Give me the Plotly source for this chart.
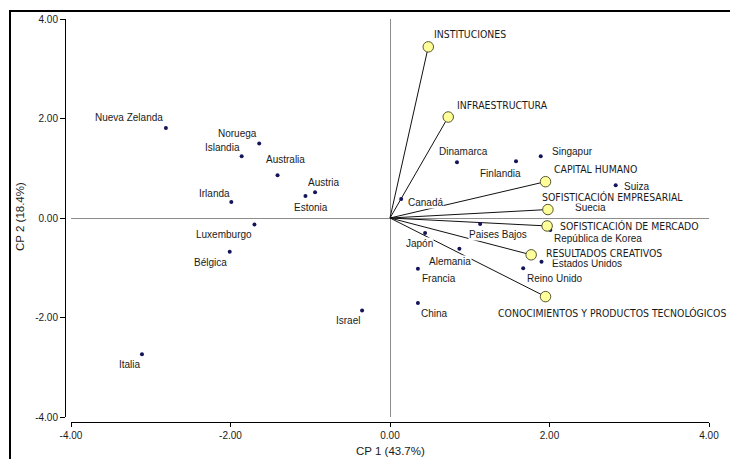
import plotly.graph_objects as go

# ---------------- data ----------------
countries = ["Nueva Zelanda", "Noruega", "Islandia", "Irlanda", "Australia", "Austria",
             "Estonia", "Luxemburgo", "Bélgica", "Italia", "Israel", "China", "Francia",
             "Alemania", "Japón", "Paises Bajos", "Canadá", "Dinamarca", "Finlandia",
             "Singapur", "Suiza", "Suecia", "República de Korea", "Estados Unidos", "Reino Unido"]
country_cp1 = [-2.81, -1.64, -1.86, -1.99, -1.41, -0.94, -1.06, -1.70, -2.01, -3.11, -0.35, 0.35,
               0.35, 0.87, 0.44, 1.13, 0.14, 0.84, 1.58, 1.89, 2.83, 1.99, 2.01, 1.90, 1.67]
country_cp2 = [1.81, 1.50, 1.24, 0.32, 0.86, 0.52, 0.44, -0.13, -0.68, -2.74, -1.86, -1.71,
               -1.02, -0.62, -0.30, -0.12, 0.38, 1.12, 1.14, 1.24, 0.66, 0.17, -0.24, -0.88, -1.01]

pillars = ["INSTITUCIONES", "INFRAESTRUCTURA", "CAPITAL HUMANO", "SOFISTICACIÓN EMPRESARIAL",
           "SOFISTICACIÓN DE MERCADO", "RESULTADOS CREATIVOS",
           "CONOCIMIENTOS Y PRODUCTOS TECNOLÓGICOS"]
pillar_cp1 = [0.48, 0.73, 1.95, 1.98, 1.97, 1.77, 1.95]
pillar_cp2 = [3.44, 2.03, 0.73, 0.17, -0.16, -0.74, -1.58]

tick_values = [-4, -2, 0, 2, 4]
tick_labels = ["-4.00", "-2.00", "0.00", "2.00", "4.00"]
x_title = "CP 1 (43.7%)"
y_title = "CP 2 (18.4%)"

# ---------------- label placement (pixel offsets from the marker) ----------------
country_label_offset = {
    "Nueva Zelanda": (-37, -10), "Noruega": (-22, -10), "Islandia": (-19, -9),
    "Irlanda": (-17, -9), "Australia": (8, -16), "Austria": (9, -10), "Estonia": (6, 11),
    "Luxemburgo": (-30, 10), "Bélgica": (-19, 11), "Italia": (-12, 10), "Israel": (-14, 10),
    "China": (17, 10), "Francia": (21, 10), "Alemania": (-9, 13), "Japón": (-6, 11),
    "Paises Bajos": (18, 11), "Canadá": (24, 3), "Dinamarca": (7, -11), "Finlandia": (-16, 12),
    "Singapur": (32, -5), "Suiza": (21, 1), "Suecia": (42, -2), "República de Korea": (48, 9),
    "Estados Unidos": (45, 2), "Reino Unido": (31, 10),
}
pillar_label_offset = {
    "INSTITUCIONES": (42, -13), "INFRAESTRUCTURA": (54, -12), "CAPITAL HUMANO": (50, -13),
    "SOFISTICACIÓN EMPRESARIAL": (65, -13), "SOFISTICACIÓN DE MERCADO": (82, 0),
    "RESULTADOS CREATIVOS": (73, -2), "CONOCIMIENTOS Y PRODUCTOS TECNOLÓGICOS": (66, 16),
}

FONT = "Liberation Sans, Arial, sans-serif"
FONT_CAPS = "DejaVu Sans Condensed, Liberation Sans, sans-serif"
W, H = 730, 459

fig = go.Figure()

# vectors from origin
vx, vy = [], []
for a, b in zip(pillar_cp1, pillar_cp2):
    vx += [0, a, None]
    vy += [0, b, None]
fig.add_trace(go.Scatter(x=vx, y=vy, mode="lines", line=dict(color="#111111", width=1),
                         hoverinfo="skip", showlegend=False))

# countries
fig.add_trace(go.Scatter(x=country_cp1, y=country_cp2, mode="markers", text=countries,
                         marker=dict(size=4, color="#14145a"), showlegend=False))

# pillar end points
fig.add_trace(go.Scatter(x=pillar_cp1, y=pillar_cp2, mode="markers", text=pillars,
                         marker=dict(size=10.5, color="#ffff99", line=dict(color="#555533", width=1)),
                         showlegend=False))

annotations = []
for name, a, b in zip(countries, country_cp1, country_cp2):
    dx, dy = country_label_offset[name]
    annotations.append(dict(x=a, y=b, xref="x", yref="y", text=name, showarrow=False,
                            xshift=dx, yshift=-dy, xanchor="center", yanchor="middle",
                            font=dict(family=FONT, size=10, color="#1a1a1a"),
                            bgcolor="white", borderpad=0))
for name, a, b in zip(pillars, pillar_cp1, pillar_cp2):
    dx, dy = pillar_label_offset[name]
    annotations.append(dict(x=a, y=b, xref="x", yref="y", text=name, showarrow=False,
                            xshift=dx, yshift=-dy, xanchor="center", yanchor="middle",
                            font=dict(family=FONT_CAPS, size=10.4, color="#1a1a1a"),
                            bgcolor="white", borderpad=0))

# axis titles
annotations.append(dict(x=390 / W, y=1 - 451 / H, xref="paper", yref="paper", text=x_title,
                        showarrow=False, xanchor="center", yanchor="middle",
                        font=dict(family=FONT, size=11.5, color="#1a1a1a")))
annotations.append(dict(x=20 / W, y=1 - 217 / H, xref="paper", yref="paper", text=y_title,
                        showarrow=False, xanchor="center", yanchor="middle", textangle=-90,
                        font=dict(family=FONT, size=11.5, color="#1a1a1a")))

fig.update_layout(
    width=W, height=H, autosize=False, margin=dict(l=0, r=0, t=0, b=0, pad=0),
    paper_bgcolor="white", plot_bgcolor="white",
    font=dict(family=FONT, size=10, color="#1a1a1a"),
    annotations=annotations,
    shapes=[dict(type="rect", xref="paper", yref="paper", x0=10 / W, x1=1.05,
                 y0=-0.05, y1=1 - 11 / H, line=dict(color="black", width=2),
                 fillcolor="rgba(0,0,0,0)", layer="above")],
    xaxis=dict(domain=[71 / W, 709 / W], range=[-4, 4], anchor="free", automargin=False,
               position=1 - 422 / H, showline=True, linecolor="black", linewidth=1,
               ticks="outside", ticklen=4, tickcolor="black",
               tickvals=tick_values, ticktext=tick_labels, showgrid=False,
               zeroline=True, zerolinecolor="#8c8c8c", zerolinewidth=1,
               tickfont=dict(family=FONT, size=10, color="#1a1a1a")),
    yaxis=dict(domain=[1 - 417 / H, 1 - 19 / H], range=[-4, 4], anchor="free", automargin=False,
               position=65 / W, showline=True, linecolor="black", linewidth=1,
               ticks="outside", ticklen=5, tickcolor="black",
               tickvals=tick_values, ticktext=tick_labels, showgrid=False,
               zeroline=True, zerolinecolor="#8c8c8c", zerolinewidth=1,
               tickfont=dict(family=FONT, size=10, color="#1a1a1a")),
)

fig.write_html("out.html", config={"displayModeBar": False},
               post_script="document.body.style.margin='0';")
